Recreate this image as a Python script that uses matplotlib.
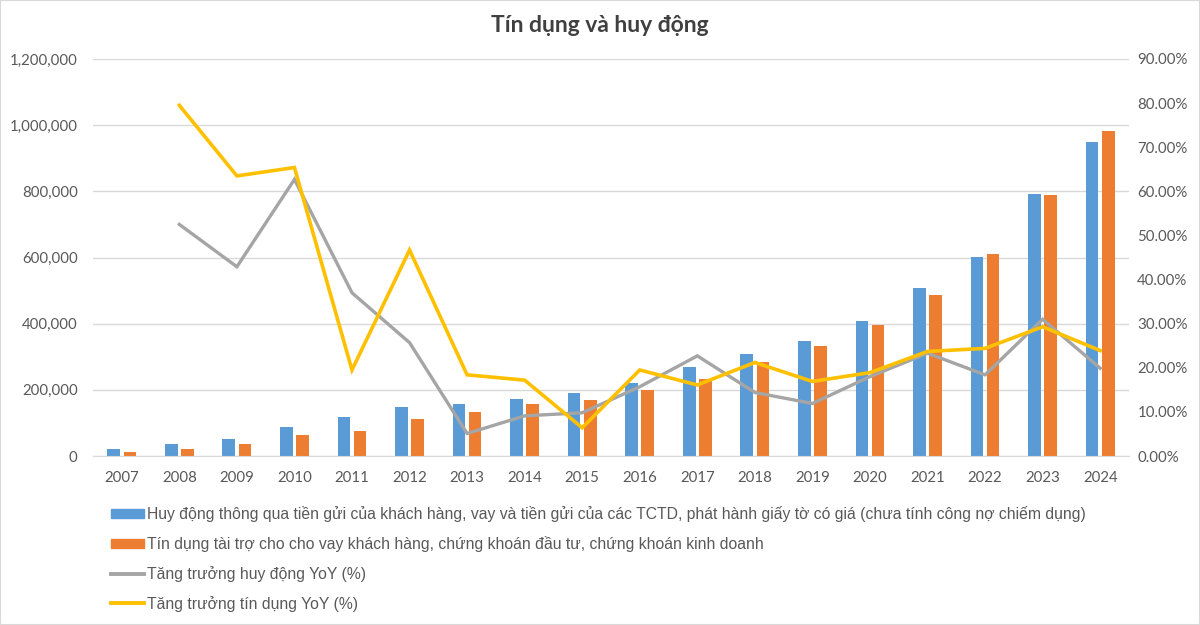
import matplotlib
matplotlib.use("Agg")
import matplotlib.pyplot as plt
from matplotlib.ticker import FuncFormatter, MultipleLocator
from matplotlib.patches import Patch
from matplotlib.lines import Line2D
import numpy as np

years = ["2007", "2008", "2009", "2010", "2011", "2012", "2013", "2014", "2015",
         "2016", "2017", "2018", "2019", "2020", "2021", "2022", "2023", "2024"]
huy_dong = [22000, 36000, 51000, 87000, 119000, 149000, 157000, 172000, 190000,
            220000, 270000, 308000, 347000, 409000, 508000, 602000, 792000, 950000]
tin_dung = [12000, 22000, 37000, 63000, 76000, 113000, 134000, 157000, 168000,
            200000, 233000, 283000, 333000, 395000, 488000, 610000, 789000, 981000]
tang_truong_huy_dong = [None, 52.5, 42.9, 62.7, 37.0, 25.7, 5.1, 9.1, 9.8,
                        15.7, 22.7, 14.4, 11.9, 18.0, 23.3, 18.4, 31.0, 19.9]
tang_truong_tin_dung = [None, 79.5, 63.5, 65.4, 19.5, 46.7, 18.4, 17.2, 6.4,
                        19.5, 16.1, 21.2, 16.9, 18.9, 23.7, 24.4, 29.3, 23.9]

labels = [
    "Huy động thông qua tiền gửi của khách hàng, vay và tiền gửi của các TCTD, phát hành giấy tờ có giá (chưa tính công nợ chiếm dụng)",
    "Tín dụng tài trợ cho cho vay khách hàng, chứng khoán đầu tư, chứng khoán kinh doanh",
    "Tăng trưởng huy động YoY (%)",
    "Tăng trưởng tín dụng YoY (%)",
]

BLUE = "#5B9BD5"
ORANGE = "#ED7D31"
GRAY = "#A5A5A5"
YELLOW = "#FFC000"
TXT = "#595959"
GRID = "#D9D9D9"

plt.rcParams['font.family'] = ['Lato', 'DejaVu Sans']

fig = plt.figure(figsize=(12, 6.25), dpi=100)
ax = fig.add_axes([0.0775, 0.2704, 0.8633, 0.6352])
ax2 = ax.twinx()

x = np.arange(len(years))
w = 0.22
ax.bar(x - 0.14, huy_dong, width=w, color=BLUE, zorder=2)
ax.bar(x + 0.14, tin_dung, width=w, color=ORANGE, zorder=2)

def arr(v):
    return np.array([np.nan if a is None else a for a in v], dtype=float)

ax2.plot(x, arr(tang_truong_huy_dong) / 100, color=GRAY, lw=2.4, zorder=3,
         solid_joinstyle='miter')
ax2.plot(x, arr(tang_truong_tin_dung) / 100, color=YELLOW, lw=2.6, zorder=4,
         solid_joinstyle='miter')

ax.set_xlim(-0.5, len(years) - 0.5)
ax.set_ylim(0, 1200000)
ax2.set_ylim(0, 0.9)
ax.yaxis.set_major_locator(MultipleLocator(200000))
ax2.yaxis.set_major_locator(MultipleLocator(0.1))
ax.yaxis.set_major_formatter(FuncFormatter(lambda v, p: f"{int(v):,}"))
ax2.yaxis.set_major_formatter(FuncFormatter(lambda v, p: f"{v*100:.2f}%"))
ax.set_xticks(x)
ax.set_xticklabels(years)

ax.grid(axis='y', color=GRID, lw=1, zorder=0)
ax.set_axisbelow(True)
for a in (ax, ax2):
    for s in a.spines.values():
        s.set_visible(False)
    a.tick_params(length=0, colors=TXT, labelsize=10.8)
ax.spines['bottom'].set_visible(True)
ax.spines['bottom'].set_color(GRID)
ax.tick_params(axis='x', pad=11)
ax.tick_params(axis='y', pad=11)
ax2.tick_params(axis='y', pad=6)

fig.text(0.5, 0.96, "Tín dụng và huy động", ha='center', va='center',
         fontsize=16.5, fontweight='bold', color="#404040")

handles = [Patch(color=BLUE), Patch(color=ORANGE),
           Line2D([], [], color=GRAY, lw=2.8),
           Line2D([], [], color=YELLOW, lw=2.8)]
leg = fig.legend(handles, labels, loc='upper left', bbox_to_anchor=(0.081, 0.213),
                 frameon=False, ncol=1, handlelength=2.05, handleheight=0.55,
                 handletextpad=0.22, labelspacing=0.88,
                 prop={'family': ['Liberation Sans', 'DejaVu Sans'], 'size': 11.35})
for t in leg.get_texts():
    t.set_color(TXT)

fig.patches.append(plt.Rectangle((0, 0), 1, 1, transform=fig.transFigure,
                                 fill=False, edgecolor=GRID, lw=1.5))

fig.savefig("out.png", dpi=100)
